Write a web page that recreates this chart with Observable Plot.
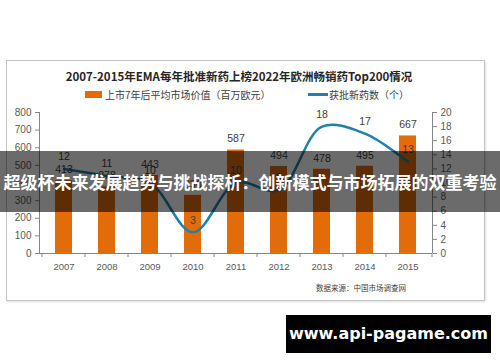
<!DOCTYPE html>
<html><head><meta charset="utf-8">
<script src="https://cdn.jsdelivr.net/npm/d3@7"></script>
<script src="https://cdn.jsdelivr.net/npm/@observablehq/plot@0.6"></script>
<style>
body{margin:0;background:#fff;}
#wrap{position:relative;width:500px;height:362px;overflow:hidden;font-family:"Noto Sans CJK SC","Noto Sans",sans-serif;}
#wrap svg{position:absolute;left:0;top:0;}
.abs{position:absolute;white-space:nowrap;}
#frame{left:6px;top:60px;width:477px;height:239px;border:1px solid #c4c4c4;box-shadow:1px 1px 2px rgba(0,0,0,0.12);}
#title{left:239px;top:68px;transform:translateX(-50%);font-size:11.5px;font-weight:bold;color:#262626;line-height:16px;}
.leg{top:88px;font-size:10px;color:#404040;line-height:13px;}
.sw{position:absolute;}
#source{left:316px;top:282px;font-size:7.5px;color:#404040;line-height:11px;}
#band{left:0;top:151px;width:500px;height:61px;background:rgba(0,0,0,0.58);color:#fff;font-weight:bold;font-size:17px;line-height:61px;text-align:center;}
#wm{left:286px;top:315px;width:205px;height:38px;background:#000;color:#fff;font-family:"DejaVu Sans",sans-serif;font-weight:bold;font-size:16px;line-height:38px;text-align:center;}
</style></head><body>
<div id="wrap">
  <div id="frame" class="abs"></div>
  <div id="title" class="abs">2007-2015年EMA每年批准新药上榜2022年欧洲畅销药Top200情况</div>
  <div class="sw abs" style="left:85px;top:91px;width:17px;height:7px;background:#E36C0A"></div>
  <div class="leg abs" style="left:105px">上市7年后平均市场价值（百万欧元）</div>
  <div class="sw abs" style="left:308px;top:93px;width:20px;height:2.5px;background:#1f80a8"></div>
  <div class="leg abs" style="left:329px">获批新药数（个）</div>
  <div id="source" class="abs">数据来源：中国市场调查网</div>
</div>
<script>
const years = ["2007","2008","2009","2010","2011","2012","2013","2014","2015"];
const marketValue = [413, 378, 443, 330, 587, 494, 478, 495, 667];
const approvals = [12, 11, 10, 3, 10, 9, 18, 17, 13];
const leftTicks = [0,100,200,300,400,500,600,700,800];
const rightTicks = [0,2,4,6,8,10,12,14,16,18,20];

const k = d3.max(leftTicks) / d3.max(rightTicks);
const data = years.map((y, i) => ({year: y, value: marketValue[i], count: approvals[i]}));
const axisColor = "#868686";
const labelColor = "#404040";
const font = "'Liberation Sans', Arial, sans-serif";

const chart = Plot.plot({
  width: 500, height: 362,
  marginLeft: 39, marginRight: 68, marginTop: 112, marginBottom: 109,
  x: {domain: years, paddingInner: 0.61, paddingOuter: 0.305, label: null},
  y: {domain: [0, d3.max(leftTicks)], label: null},
  style: {fontFamily: font, fontSize: "10px", color: "#595959", background: "transparent"},
  marks: [
    Plot.barY(data, {x: "year", y: "value", fill: "#E36C0A"}),
    Plot.ruleY([0], {stroke: axisColor}),
    Plot.axisX({tickSize: 0, tickPadding: 10, fontSize: 9.5, label: null}),
    Plot.axisY({ticks: leftTicks, tickSize: 4, tickPadding: 4, stroke: axisColor, label: null}),
    Plot.axisY({anchor: "right", ticks: rightTicks.map(d => d * k), tickFormat: d => d3.format("d")(d / k), tickSize: 4, tickPadding: 4, stroke: axisColor, label: null}),
    Plot.line(data, {x: "year", y: d => d.count * k, curve: "catmull-rom", stroke: "#1f80a8", strokeWidth: 2.5}),
    Plot.text(data, {x: "year", y: "value", text: d => String(d.value), dy: -11, fill: labelColor, fontSize: 10.5}),
    Plot.text(data, {x: "year", y: d => d.count * k, text: d => String(d.count), dy: -12, fill: labelColor, fontSize: 10.5})
  ]
});

document.getElementById("wrap").appendChild(chart);

// axis lines and category separators from the library's scales
const xs = chart.scale("x"), ys = chart.scale("y");
const [x0, x1] = xs.range;
const [yb, yt] = ys.range;
const svg = d3.select(chart);
const g = svg.append("g").attr("stroke", axisColor).attr("stroke-width", 1);
g.append("line").attr("x1", x0 + 0.5).attr("x2", x0 + 0.5).attr("y1", yt).attr("y2", yb);
g.append("line").attr("x1", x1 + 0.5).attr("x2", x1 + 0.5).attr("y1", yt).attr("y2", yb);
const step = xs.step;
years.forEach(y => {
  const b = xs.apply(y) - (step - xs.bandwidth) / 2;
  g.append("line").attr("x1", b).attr("x2", b).attr("y1", yb).attr("y2", yb + 4);
});
g.append("line").attr("x1", x1).attr("x2", x1).attr("y1", yb).attr("y2", yb + 4);

const wrap = document.getElementById("wrap");
const band = document.createElement("div");
band.className = "abs"; band.id = "band";
band.textContent = "超级杯未来发展趋势与挑战探析：创新模式与市场拓展的双重考验";
wrap.appendChild(band);
const wm = document.createElement("div");
wm.className = "abs"; wm.id = "wm";
wm.textContent = "www.api-pagame.com";
wrap.appendChild(wm);
</script>
</body></html>
